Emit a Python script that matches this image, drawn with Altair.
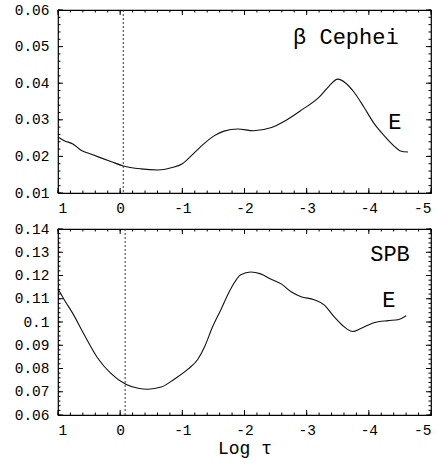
import altair as alt
import pandas as pd

# ---- data ----
top_x = [1.0, 0.9, 0.76, 0.63, 0.45, 0.31, 0.15, -0.05, -0.33, -0.61, -0.82, -1.0,
         -1.15, -1.35, -1.51, -1.67, -1.89, -2.15, -2.42, -2.67, -2.92, -3.2, -3.35,
         -3.5, -3.63, -3.76, -3.92, -4.08, -4.24, -4.39, -4.51, -4.63]
top_y = [0.0253, 0.0243, 0.0234, 0.0217, 0.0205, 0.0196, 0.0186, 0.0174, 0.0166, 0.0163,
         0.0169, 0.0180, 0.0203, 0.0235, 0.0256, 0.0269, 0.0275, 0.0270, 0.0278, 0.0299,
         0.0327, 0.0362, 0.0390, 0.0411, 0.0400, 0.0376, 0.0335, 0.0291, 0.0258, 0.0231,
         0.0215, 0.0212]

bot_x = [1.0, 0.9, 0.76, 0.58, 0.36, 0.15, -0.09, -0.29, -0.45, -0.66, -0.87, -1.09,
         -1.25, -1.36, -1.48, -1.62, -1.78, -1.94, -2.1, -2.26, -2.42, -2.59, -2.75, -2.91,
         -3.12, -3.28, -3.44, -3.6, -3.74, -3.87, -4.08, -4.31, -4.47, -4.6]
bot_y = [0.1143, 0.1096, 0.1036, 0.0946, 0.0844, 0.0779, 0.0732, 0.0715, 0.0711, 0.0720,
         0.0754, 0.0797, 0.0840, 0.0895, 0.0975, 0.1053, 0.1143, 0.1203, 0.1215, 0.1207,
         0.1185, 0.1164, 0.1130, 0.1109, 0.1096, 0.1074, 0.1023, 0.0980, 0.0959, 0.0972,
         0.0997, 0.1006, 0.1010, 0.1027]

x_labels = [1, 0, -1, -2, -3, -4, -5]
x_minor = [round(1 - 0.2 * i, 1) for i in range(31)]
top_y_labels = [0.01, 0.02, 0.03, 0.04, 0.05, 0.06]
top_y_minor = [round(0.01 + 0.002 * i, 3) for i in range(26)]
bot_y_labels = [0.06, 0.07, 0.08, 0.09, 0.1, 0.11, 0.12, 0.13, 0.14]
bot_y_minor = [round(0.06 + 0.002 * i, 3) for i in range(41)]

top_vline = [-0.05]
bot_vline = [-0.08]

top_ann_text = ["\u03b2 Cephei", "E"]
top_ann_x = [-3.63, -4.42]
top_ann_y = [0.0526, 0.0294]
bot_ann_text = ["SPB", "E"]
bot_ann_x = [-4.34, -4.32]
bot_ann_y = [0.1292, 0.1096]

FONT = "Liberation Mono"
W = 373


def panel(xs, ys, ydom, ylabels, yminor, vline, ann_t, ann_x, ann_y, H, xtitle):
    xscale = alt.Scale(domain=[1, -5], nice=False, zero=False)
    yscale = alt.Scale(domain=ydom, nice=False, zero=False)
    xaxis = alt.Axis(values=x_labels, labelExpr="'' + datum.value", ticks=False, tickSize=0,
                     domain=False, grid=False, labelPadding=8, labelFont=FONT,
                     labelFontSize=14.5, labelColor="black", title=xtitle,
                     titleFont=FONT, titleFontSize=18, titleFontWeight="normal",
                     titleColor="black", titlePadding=3)
    yaxis = alt.Axis(values=ylabels, labelExpr="'' + datum.value", ticks=False, tickSize=0,
                     domain=False, grid=False, labelPadding=9, labelFont=FONT,
                     labelFontSize=14.5, labelColor="black", title="")

    def X(f):
        return alt.X(f, scale=xscale, axis=xaxis)

    def Y(f):
        return alt.Y(f, scale=yscale, axis=yaxis)

    df = pd.DataFrame({"x": xs, "y": ys})
    line = alt.Chart(df).mark_line(color="#111", strokeWidth=1.1, interpolate="monotone").encode(
        x=X("x:Q"), y=Y("y:Q"))
    vl = alt.Chart(pd.DataFrame({"x": vline})).mark_rule(
        color="#333", strokeWidth=1, strokeDash=[2, 2]).encode(x=X("x:Q"))
    ann = alt.Chart(pd.DataFrame({"t": ann_t, "x": ann_x, "y": ann_y})).mark_text(
        font=FONT, fontSize=22, color="black", align="center", baseline="middle").encode(
        x=X("x:Q"), y=Y("y:Q"), text="t:N")

    layers = [line, vl, ann]

    def xticks(vals, L):
        d = pd.DataFrame({"x": vals})
        b = alt.Chart(d).mark_rule(color="black", strokeWidth=1).encode(
            x=X("x:Q"), y=alt.value(H), y2=alt.value(H - L))
        t = alt.Chart(d).mark_rule(color="black", strokeWidth=1).encode(
            x=X("x:Q"), y=alt.value(0), y2=alt.value(L))
        return [b, t]

    def yticks(vals, L):
        d = pd.DataFrame({"y": vals})
        l = alt.Chart(d).mark_rule(color="black", strokeWidth=1).encode(
            y=Y("y:Q"), x=alt.value(0), x2=alt.value(L))
        r = alt.Chart(d).mark_rule(color="black", strokeWidth=1).encode(
            y=Y("y:Q"), x=alt.value(W), x2=alt.value(W - L))
        return [l, r]

    layers += xticks(x_labels, 5) + xticks(x_minor, 2.5)
    layers += yticks(ylabels, 5) + yticks(yminor, 2.5)
    return alt.layer(*layers).properties(width=W, height=H)


top = panel(top_x, top_y, [0.01, 0.06], top_y_labels, top_y_minor, top_vline,
            top_ann_text, top_ann_x, top_ann_y, 183, "")
bot = panel(bot_x, bot_y, [0.06, 0.14], bot_y_labels, bot_y_minor, bot_vline,
            bot_ann_text, bot_ann_x, bot_ann_y, 186, "Log \u03c4")

chart = alt.vconcat(top, bot, spacing=4).properties(
    padding={"left": 13, "top": 1, "right": 5, "bottom": 5},
    background="white",
).configure_view(stroke="black", strokeWidth=1.2)

chart.save("out.html", embed_options={"renderer": "svg", "actions": False})
